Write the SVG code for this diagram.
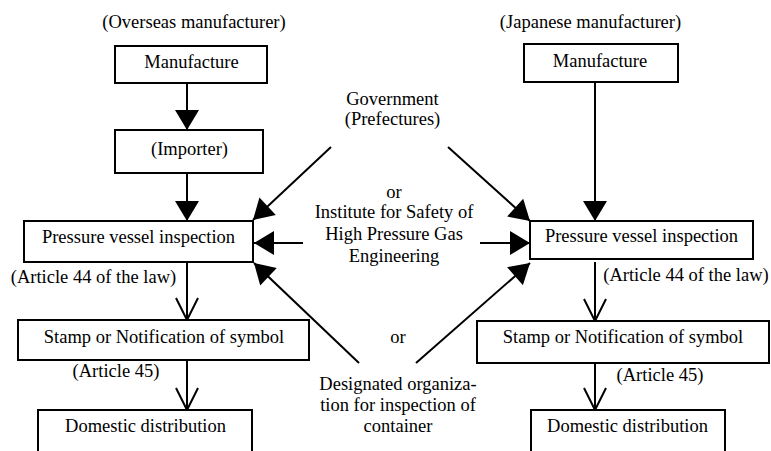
<svg xmlns="http://www.w3.org/2000/svg" width="771" height="451" viewBox="0 0 771 451">
<style>
text{font-family:'Liberation Serif',serif;font-size:18.5px;fill:#000;text-anchor:middle}
.box{fill:#fff;stroke:#000;stroke-width:2}
.c{stroke:#000;stroke-width:2;fill:none}
</style>
<defs>
<marker id="fa" markerUnits="userSpaceOnUse" markerWidth="22" markerHeight="26" viewBox="0 0 22 26" refX="21" refY="13" orient="auto">
<path d="M1,1 L21,13 L1,25 Z" fill="#000"/>
</marker>
<marker id="oa" markerUnits="userSpaceOnUse" markerWidth="26" markerHeight="26" viewBox="0 0 26 26" refX="23" refY="13" orient="auto" overflow="visible">
<path d="M1,2 L23,13 L1,24" fill="none" stroke="#000" stroke-width="2"/>
</marker>
</defs>
<text x="194" y="28">(Overseas manufacturer)</text>
<text x="590.5" y="28">(Japanese manufacturer)</text>
<g id="connectors">
<line class="c" x1="187" y1="83" x2="187" y2="130" marker-end="url(#fa)"/>
<line class="c" x1="187" y1="173" x2="187" y2="221" marker-end="url(#fa)"/>
<line class="c" x1="187" y1="262" x2="187" y2="320" marker-end="url(#oa)"/>
<line class="c" x1="187" y1="360" x2="187" y2="410" marker-end="url(#oa)"/>
<line class="c" x1="595" y1="82" x2="595" y2="221" marker-end="url(#fa)"/>
<line class="c" x1="595" y1="262" x2="595" y2="321" marker-end="url(#oa)"/>
<line class="c" x1="595" y1="363" x2="595" y2="410" marker-end="url(#oa)"/>
<line class="c" x1="331" y1="147" x2="253" y2="220" marker-end="url(#fa)"/>
<line class="c" x1="448" y1="147" x2="530" y2="221" marker-end="url(#fa)"/>
<line class="c" x1="303" y1="243" x2="254" y2="243" marker-end="url(#fa)"/>
<line class="c" x1="480" y1="243" x2="530" y2="243" marker-end="url(#fa)"/>
<line class="c" x1="359" y1="363" x2="254" y2="263" marker-end="url(#fa)"/>
<line class="c" x1="416" y1="363" x2="530" y2="263" marker-end="url(#fa)"/>
</g>
<g id="l-manufacture"><rect class="box" x="115" y="46" width="152" height="37"/><text x="191.5" y="68">Manufacture</text></g>
<g id="l-importer"><rect class="box" x="115" y="130" width="148" height="43"/><text x="189.5" y="155">(Importer)</text></g>
<g id="l-inspection"><rect class="box" x="24" y="221" width="229" height="41"/><text x="138.5" y="243">Pressure vessel inspection</text></g>
<text x="93.5" y="283">(Article 44 of the law)</text>
<g id="l-stamp"><rect class="box" x="18" y="320" width="291" height="40"/><text x="164" y="343">Stamp or Notification of symbol</text></g>
<text x="116" y="377">(Article 45)</text>
<g id="l-domestic"><rect class="box" x="38" y="410" width="214" height="50"/><text x="145.5" y="432">Domestic distribution</text></g>
<g id="r-manufacture"><rect class="box" x="524" y="44" width="154" height="38"/><text x="600" y="67">Manufacture</text></g>
<g id="r-inspection"><rect class="box" x="530" y="221" width="223" height="38"/><text x="641.5" y="242">Pressure vessel inspection</text></g>
<text x="686" y="281">(Article 44 of the law)</text>
<g id="r-stamp"><rect class="box" x="477" y="321" width="292" height="42"/><text x="623" y="343">Stamp or Notification of symbol</text></g>
<text x="660" y="381">(Article 45)</text>
<g id="r-domestic"><rect class="box" x="531" y="410" width="194" height="50"/><text x="627.5" y="432">Domestic distribution</text></g>
<g id="government"><text x="392.5" y="105">Government</text><text x="392.5" y="125">(Prefectures)</text></g>
<text x="394" y="198">or</text>
<g id="institute"><text x="394" y="218">Institute for Safety of</text><text x="394" y="240">High Pressure Gas</text><text x="394" y="262">Engineering</text></g>
<text x="398" y="343">or</text>
<g id="designated"><text x="398" y="390">Designated organiza-</text><text x="398" y="411">tion for inspection of</text><text x="398" y="432">container</text></g>
</svg>
